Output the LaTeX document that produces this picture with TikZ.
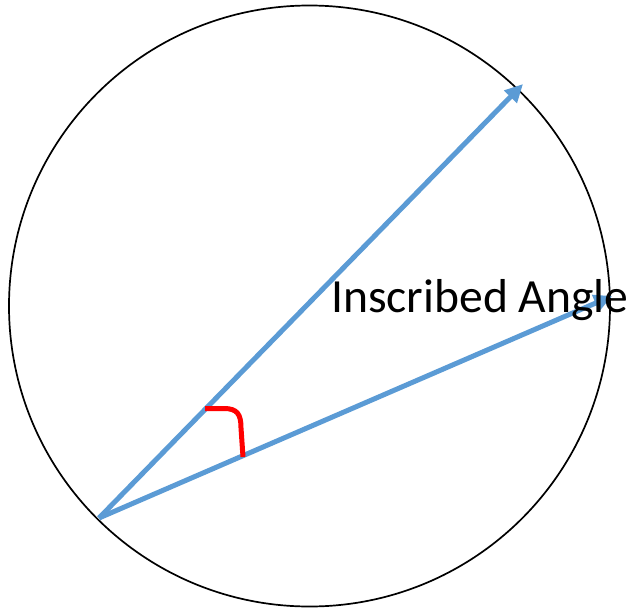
\documentclass[tikz,border=0pt]{standalone}
\usepackage{fontspec}
\setmainfont{Carlito}
\usetikzlibrary{arrows.meta}
\definecolor{arrowblue}{RGB}{91,155,213}
\tikzset{
  ray/.style={draw=arrowblue,line width=5pt,-{Triangle[length=18pt,width=17pt]}},
  anglemark/.style={draw=red,line width=5pt},
  rim/.style={draw=black,line width=1.7pt}
}
\begin{document}
\begin{tikzpicture}[x=1pt,y=-1pt]
\useasboundingbox (0,0) rectangle (636,610);
\coordinate (O) at (309.5,306);
\coordinate (V) at (99,518);
\coordinate (A) at (523,84);
\coordinate (B) at (612,296);
\draw[rim] (O) circle (300.5);
\draw[ray] (V) -- (A);
\draw[ray] (V) -- (B);
\coordinate (m1) at (205,408.5);
\coordinate (m2) at (243,457);
\draw[anglemark] (m1) -- (224,408.5) .. controls (237,408.5) and (241,414) .. (241,428) -- (m2);
\node[anchor=base west,font=\fontsize{47.6}{56}\selectfont,inner sep=0pt] (lbl) at (331,312) {Inscribed Angle};
\end{tikzpicture}
\end{document}
